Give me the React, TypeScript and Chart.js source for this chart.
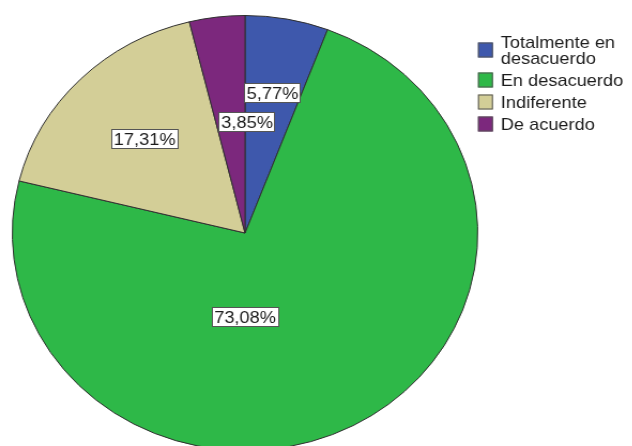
import React, { useEffect, useRef } from 'react';
import { Chart, registerables } from 'chart.js';

Chart.register(...registerables);

// ---- data ----
const CATEGORIES = ['Totalmente en desacuerdo', 'En desacuerdo', 'Indiferente', 'De acuerdo'];
const COUNTS = [3, 38, 9, 2];
const COLORS = ['#3E58AC', '#2EB848', '#D3CE97', '#7C287D'];

// ---- layout / style constants ----
const STRETCH_X = 1.07;
const CANVAS_W = 591;
const CANVAS_H = 460;
const FONT = '17px "Liberation Sans", Arial, sans-serif';
// label placement: angle (deg clockwise from top, null = mid-angle) and fraction of radius
const LABEL_PLACEMENT = [
  { angle: null as number | null, frac: 0.654 },
  { angle: 180 as number | null, frac: 0.386 },
  { angle: null as number | null, frac: 0.61 },
  { angle: 1 as number | null, frac: 0.51 },
];
const LEGEND = { swatchX: 446.7, swatchW: 14, swatchH: 15, textX: 468, firstY: 42, lineH: 16, entryGap: 22, maxW: 120 };

function fmtPct(v: number, total: number) {
  return (v / total * 100).toFixed(2).replace('.', ',') + '%';
}

const labelPlugin = {
  id: 'pctLabels',
  afterDatasetsDraw(chart: any) {
    const ctx = chart.ctx;
    const meta = chart.getDatasetMeta(0);
    const data = chart.data.datasets[0].data as number[];
    const total = data.reduce((a, b) => a + b, 0);
    ctx.save();
    ctx.font = FONT;
    ctx.textAlign = 'center';
    ctx.textBaseline = 'middle';
    meta.data.forEach((arc: any, i: number) => {
      const p = arc.getProps(['x', 'y', 'startAngle', 'endAngle', 'outerRadius'], true);
      const pl = LABEL_PLACEMENT[i];
      const ang = pl.angle === null ? (p.startAngle + p.endAngle) / 2 : -Math.PI / 2 + (pl.angle * Math.PI) / 180;
      const r = p.outerRadius * pl.frac;
      const cx = p.x + Math.cos(ang) * r;
      const cy = p.y + Math.sin(ang) * r;
      const txt = fmtPct(data[i], total);
      const w = ctx.measureText(txt).width + 5;
      const h = 20;
      ctx.fillStyle = '#ffffff';
      ctx.fillRect(Math.round(cx - w / 2), Math.round(cy - h / 2), Math.round(w), h);
      ctx.strokeStyle = '#555555';
      ctx.lineWidth = 1;
      ctx.strokeRect(Math.round(cx - w / 2) + 0.5, Math.round(cy - h / 2) + 0.5, Math.round(w) - 1, h - 1);
      ctx.fillStyle = '#1c1c1c';
      ctx.fillText(txt, cx, cy + 1);
    });
    ctx.restore();
  },
};

function wrap(ctx: CanvasRenderingContext2D, text: string, maxW: number): string[] {
  const words = text.split(' ');
  const lines: string[] = [];
  let cur = '';
  for (const w of words) {
    const t = cur ? cur + ' ' + w : w;
    if (cur && ctx.measureText(t).width > maxW) {
      lines.push(cur);
      cur = w;
    } else cur = t;
  }
  if (cur) lines.push(cur);
  return lines;
}

const legendPlugin = {
  id: 'customLegend',
  afterDraw(chart: any) {
    const ctx = chart.ctx;
    const labels = chart.data.labels as string[];
    const colors = chart.data.datasets[0].backgroundColor as string[];
    ctx.save();
    ctx.font = FONT;
    ctx.textAlign = 'left';
    ctx.textBaseline = 'middle';
    let y = LEGEND.firstY;
    labels.forEach((lab, i) => {
      const lines = wrap(ctx, lab, LEGEND.maxW);
      const firstY = y;
      lines.forEach((ln, k) => {
        ctx.fillStyle = '#1c1c1c';
        ctx.fillText(ln, LEGEND.textX, y + 1);
        if (k < lines.length - 1) y += LEGEND.lineH;
      });
      const midY = (firstY + y) / 2;
      ctx.fillStyle = colors[i];
      ctx.fillRect(LEGEND.swatchX, midY - LEGEND.swatchH / 2, LEGEND.swatchW, LEGEND.swatchH);
      ctx.strokeStyle = '#555555';
      ctx.lineWidth = 1;
      ctx.strokeRect(LEGEND.swatchX + 0.5, midY - LEGEND.swatchH / 2 + 0.5, LEGEND.swatchW - 1, LEGEND.swatchH - 1);
      y += LEGEND.entryGap;
    });
    ctx.restore();
  },
};

export default function App() {
  const ref = useRef<HTMLCanvasElement | null>(null);
  useEffect(() => {
    if (!ref.current) return;
    const chart = new Chart(ref.current, {
      type: 'pie',
      data: {
        labels: CATEGORIES,
        datasets: [
          {
            data: COUNTS,
            backgroundColor: COLORS,
            borderColor: '#2f2f2f',
            borderWidth: 1,
            hoverOffset: 0,
          },
        ],
      },
      options: {
        responsive: false,
        maintainAspectRatio: false,
        animation: false,
        devicePixelRatio: 1,
        layout: { padding: { top: 15, bottom: 9, left: 11, right: 144 } },
        plugins: { legend: { display: false }, tooltip: { enabled: false } },
      },
      plugins: [labelPlugin, legendPlugin],
    });
    return () => chart.destroy();
  }, []);
  return (
    <div style={{ position: 'fixed', left: 0, top: 0, width: 632, height: 446, overflow: 'hidden', background: '#fff' }}>
      <canvas
        ref={ref}
        width={CANVAS_W}
        height={CANVAS_H}
        style={{ display: 'block', transform: `scaleX(${STRETCH_X})`, transformOrigin: '0 0' }}
      />
    </div>
  );
}
